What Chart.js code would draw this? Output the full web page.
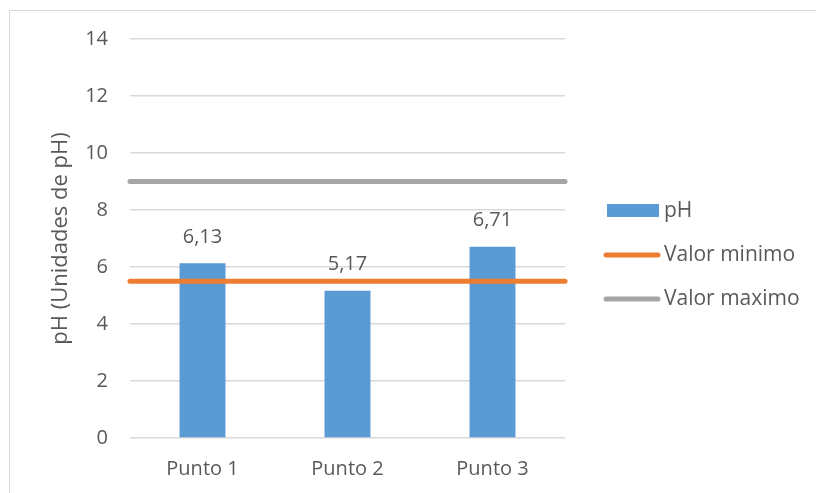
<!DOCTYPE html>
<html>
<head>
<meta charset="utf-8">
<script src="https://cdn.jsdelivr.net/npm/chart.js@4/dist/chart.umd.min.js"></script>
<style>
  html, body { margin: 0; padding: 0; background: #fff; }
  #wrap { position: relative; width: 816px; height: 493px; overflow: hidden; }
  #frame {
    position: absolute; left: 9px; top: 10px; width: 900px; height: 600px;
    border-top: 1px solid #d9d9d9; border-left: 1px solid #d9d9d9;
    pointer-events: none;
  }
  canvas { position: absolute; left: 0; top: 0; }
</style>
</head>
<body>
<div id="wrap">
  <canvas id="phChart" width="816" height="493"></canvas>
  <div id="frame"></div>
</div>
<script>
const categories = ['Punto 1', 'Punto 2', 'Punto 3'];
const phValues = [6.13, 5.17, 6.71];
const valorMinimo = [5.5, 5.5];
const valorMaximo = [9, 9];
const yTicks = [0, 2, 4, 6, 8, 10, 12, 14];

const FONT = "'Open Sans', 'Liberation Sans', sans-serif";
const TEXT = '#595959';

function formatComma(v) {
  return v.toFixed(2).replace('.', ',');
}

// labels above the bars
const barLabels = {
  id: 'barLabels',
  afterDatasetsDraw(chart) {
    const ctx = chart.ctx;
    const meta = chart.getDatasetMeta(0);
    ctx.save();
    ctx.font = '20px ' + FONT;
    ctx.fillStyle = TEXT;
    ctx.textAlign = 'center';
    ctx.textBaseline = 'middle';
    meta.data.forEach((bar, i) => {
      ctx.fillText(formatComma(phValues[i]), bar.x, bar.y - 26);
    });
    ctx.restore();
  }
};

// legend on the right, Excel style
const sideLegend = {
  id: 'sideLegend',
  afterDraw(chart) {
    const ctx = chart.ctx;
    const area = chart.chartArea;
    const x0 = area.right + 42;
    const rows = [211, 255, 299];
    ctx.save();
    ctx.font = '21px ' + FONT;
    ctx.textBaseline = 'middle';
    chart.data.datasets.forEach((ds, i) => {
      const y = rows[i];
      if (ds.type === 'line') {
        ctx.strokeStyle = ds.borderColor;
        ctx.lineWidth = 5;
        ctx.lineCap = 'round';
        ctx.beginPath();
        ctx.moveTo(x0 - 1, y);
        ctx.lineTo(x0 + 51, y);
        ctx.stroke();
      } else {
        ctx.fillStyle = ds.backgroundColor;
        ctx.fillRect(x0, y - 7, 52, 13);
      }
      ctx.fillStyle = TEXT;
      ctx.fillText(ds.label, x0 + 57, y);
    });
    ctx.restore();
  }
};

new Chart(document.getElementById('phChart'), {
  type: 'bar',
  data: {
    labels: categories,
    datasets: [
      {
        label: 'pH',
        data: phValues,
        backgroundColor: '#5B9BD5',
        categoryPercentage: 1,
        barPercentage: 0.317,
        grouped: false,
        order: 2
      },
      {
        type: 'line',
        label: 'Valor minimo',
        data: valorMinimo,
        xAxisID: 'x2',
        borderColor: '#ED7D31',
        borderWidth: 5,
        borderCapStyle: 'round',
        pointRadius: 0,
        clip: false,
        order: 1
      },
      {
        type: 'line',
        label: 'Valor maximo',
        data: valorMaximo,
        xAxisID: 'x2',
        borderColor: '#A5A5A5',
        borderWidth: 5,
        borderCapStyle: 'round',
        pointRadius: 0,
        clip: false,
        order: 1
      }
    ]
  },
  options: {
    responsive: false,
    animation: false,
    layout: { padding: { left: 40, right: 251, top: 39, bottom: 0 } },
    plugins: {
      legend: { display: false },
      tooltip: { enabled: false }
    },
    scales: {
      x: {
        grid: { display: false },
        border: { display: false },
        ticks: { color: TEXT, font: { family: FONT, size: 20 }, padding: 11 },
        afterFit(scale) { scale.height = 55; }
      },
      x2: {
        type: 'category',
        labels: ['a', 'b'],
        offset: false,
        display: false
      },
      y: {
        min: 0,
        max: 14,
        afterBuildTicks(scale) { scale.ticks = yTicks.map(v => ({ value: v })); },
        grid: { color: '#D9D9D9', lineWidth: 1.5, drawTicks: false },
        border: { display: false },
        ticks: { color: TEXT, font: { family: FONT, size: 20 }, padding: 22 },
        title: {
          display: true,
          text: 'pH (Unidades de pH)',
          color: TEXT,
          font: { family: FONT, size: 22 },
          padding: { top: 8, bottom: 0 }
        },
        afterFit(scale) { scale.width = 90; }
      }
    }
  },
  plugins: [barLabels, sideLegend]
});
</script>
</body>
</html>
